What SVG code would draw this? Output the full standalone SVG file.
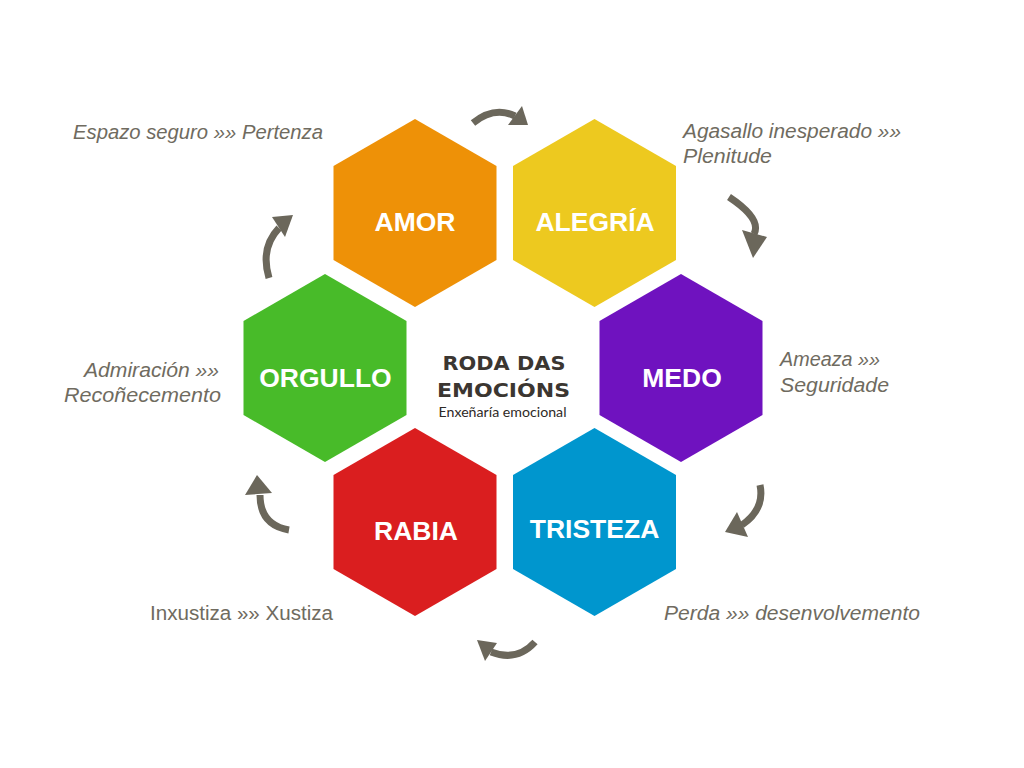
<svg xmlns="http://www.w3.org/2000/svg" xmlns:xlink="http://www.w3.org/1999/xlink" width="1024" height="768" viewBox="0 0 1024 768">
<style>
.lbl{font-family:"Liberation Sans",Arial,sans-serif;font-weight:bold;font-size:26.5px;fill:#ffffff;text-anchor:middle}
.side{font-family:"Liberation Sans",Arial,sans-serif;font-size:20px;fill:#6f6b60}
.it{font-style:italic}
.title{font-family:"DejaVu Sans","Liberation Sans",sans-serif;font-weight:bold;font-size:20px;fill:#3b3631;text-anchor:middle}
.sub{font-family:Lato,"Open Sans",sans-serif;font-weight:400;font-size:14px;fill:#2e2a26;text-anchor:middle}
.arc{fill:none;stroke:#6b675b;stroke-width:7}
.head{fill:#6b675b}
</style>
<defs>
<polygon id="hex" points="0,-94 81.5,-47 81.5,47 0,94 -81.5,47 -81.5,-47"/>
</defs>
<rect width="1024" height="768" fill="#ffffff"/>

<g id="connectors">
<path class="arc" d="M473 123 Q494 106 515 116"/>
<polygon class="head" points="522,106 508,125 528,125"/>
<path class="arc" d="M729 197 Q762 219 754 234"/>
<polygon class="head" points="742,230 767,237 753,258"/>
<path class="arc" d="M760 485 Q765 509 742 525"/>
<polygon class="head" points="737,512 748,537 725,532"/>
<path class="arc" d="M535 642 Q517 662 491 652"/>
<polygon class="head" points="477,640 497,643 485,661"/>
<path class="arc" d="M289 530 Q260 525 260 495"/>
<polygon class="head" points="257,475 245,495 272,493"/>
<path class="arc" d="M269 278 Q260 248 279 228"/>
<polygon class="head" points="272,217 293,215 285,237"/>
</g>

<g id="node-amor">
<use xlink:href="#hex" transform="translate(415,213)" fill="#ee9107"/>
<text class="lbl" x="415" y="231">AMOR</text>
</g>
<g id="node-alegria">
<use xlink:href="#hex" transform="translate(594.5,213)" fill="#edc91f"/>
<text class="lbl" x="595" y="231">ALEGRÍA</text>
</g>
<g id="node-medo">
<use xlink:href="#hex" transform="translate(681,368)" fill="#6f12bf"/>
<text class="lbl" x="682" y="387">MEDO</text>
</g>
<g id="node-tristeza">
<use xlink:href="#hex" transform="translate(594.5,522)" fill="#0096ce"/>
<text class="lbl" x="594.5" y="538">TRISTEZA</text>
</g>
<g id="node-rabia">
<use xlink:href="#hex" transform="translate(415,522)" fill="#da1e1f"/>
<text class="lbl" x="416" y="540">RABIA</text>
</g>
<g id="node-orgullo">
<use xlink:href="#hex" transform="translate(325,368)" fill="#48bb29"/>
<text class="lbl" x="325.5" y="387">ORGULLO</text>
</g>

<g id="center">
<text class="title" x="504" y="370" textLength="123" lengthAdjust="spacingAndGlyphs">RODA DAS</text>
<text class="title" x="503.5" y="397" textLength="133" lengthAdjust="spacingAndGlyphs">EMOCIÓNS</text>
<text class="sub" x="502.5" y="417" textLength="128" lengthAdjust="spacingAndGlyphs">Enxeñaría emocional</text>
</g>

<g id="labels">
<text class="side it" x="73" y="139" textLength="250" lengthAdjust="spacingAndGlyphs">Espazo seguro »» Pertenza</text>
<text class="side it" x="683" y="138" textLength="218" lengthAdjust="spacingAndGlyphs">Agasallo inesperado »»</text>
<text class="side it" x="683" y="163" textLength="89" lengthAdjust="spacingAndGlyphs">Plenitude</text>
<text class="side it" x="780" y="366" textLength="100" lengthAdjust="spacingAndGlyphs">Ameaza »»</text>
<text class="side it" x="780" y="392" textLength="109" lengthAdjust="spacingAndGlyphs">Seguridade</text>
<text class="side it" x="84" y="377" textLength="135" lengthAdjust="spacingAndGlyphs">Admiración »»</text>
<text class="side it" x="64" y="402" textLength="157" lengthAdjust="spacingAndGlyphs">Recoñecemento</text>
<text class="side" x="150" y="620" textLength="183" lengthAdjust="spacingAndGlyphs">Inxustiza »» Xustiza</text>
<text class="side it" x="664" y="620" textLength="256" lengthAdjust="spacingAndGlyphs">Perda »» desenvolvemento</text>
</g>
</svg>
